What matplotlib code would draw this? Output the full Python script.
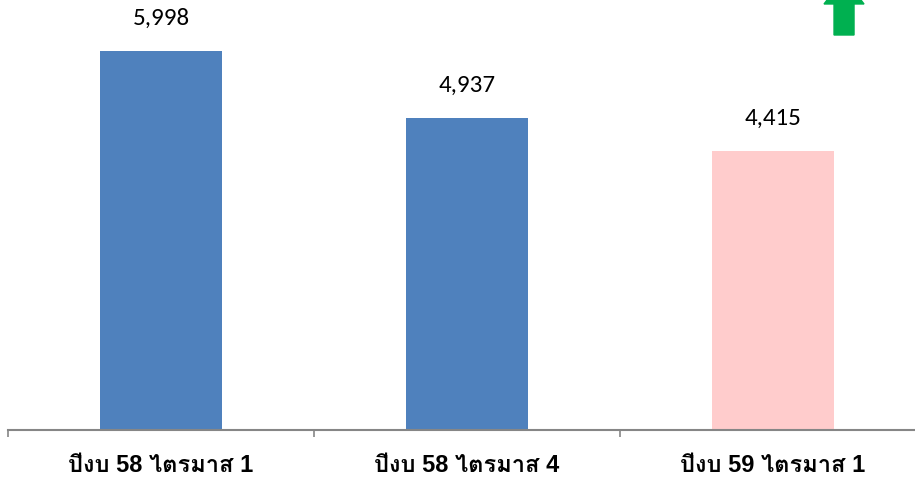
import matplotlib
matplotlib.use("Agg")
import matplotlib.pyplot as plt
from matplotlib.patches import FancyArrow

# data
categories = ["ปีงบ 58 ไตรมาส 1", "ปีงบ 58 ไตรมาส 4", "ปีงบ 59 ไตรมาส 1"]
values = [5998, 4937, 4415]
bar_colors = ["#4F81BD", "#4F81BD", "#FFCCCC"]

fig = plt.figure(figsize=(9.15, 4.8), dpi=100)
# axes runs slightly past the right edge, like the reference
ax = fig.add_axes([8 / 915, 50 / 480, 918 / 915, 430 / 480])

x = list(range(len(categories)))
bars = ax.bar(x, values, width=0.4, color=bar_colors, zorder=2)

ax.set_xlim(-0.5, len(categories) - 0.5)
ax.set_ylim(0, 6804)

for b, v in zip(bars, values):
    ax.annotate(f"{v:,}", (b.get_x() + b.get_width() / 2, v),
                xytext=(0, 16), textcoords="offset points",
                ha="center", va="bottom", fontsize=18,
                family=["Carlito", "Liberation Sans", "DejaVu Sans"])

for s in ["top", "right", "left"]:
    ax.spines[s].set_visible(False)
ax.spines["bottom"].set_color("#868686")
ax.spines["bottom"].set_linewidth(1.5)
ax.set_yticks([])

# category boundary ticks
ax.set_xticks([-0.5, 0.5, 1.5, 2.5])
ax.set_xticklabels([])
ax.tick_params(axis="x", direction="out", length=5, width=1.2, color="#868686")
ax.set_xticks(x, minor=True)
ax.set_xticklabels(categories, minor=True, fontsize=17, fontweight="bold",
                   family=["Liberation Sans", "Loma", "DejaVu Sans"])
ax.tick_params(axis="x", which="minor", length=0, pad=17)

# green up arrow in the top-right corner
arrow = FancyArrow(0.9107, 0.9186, 0, 0.1326, width=20 / 918, head_width=40 / 918,
                   head_length=26 / 430, length_includes_head=True,
                   transform=ax.transAxes, color="#00B050", clip_on=False, zorder=3)
ax.add_patch(arrow)

fig.savefig("out.png", dpi=100)
